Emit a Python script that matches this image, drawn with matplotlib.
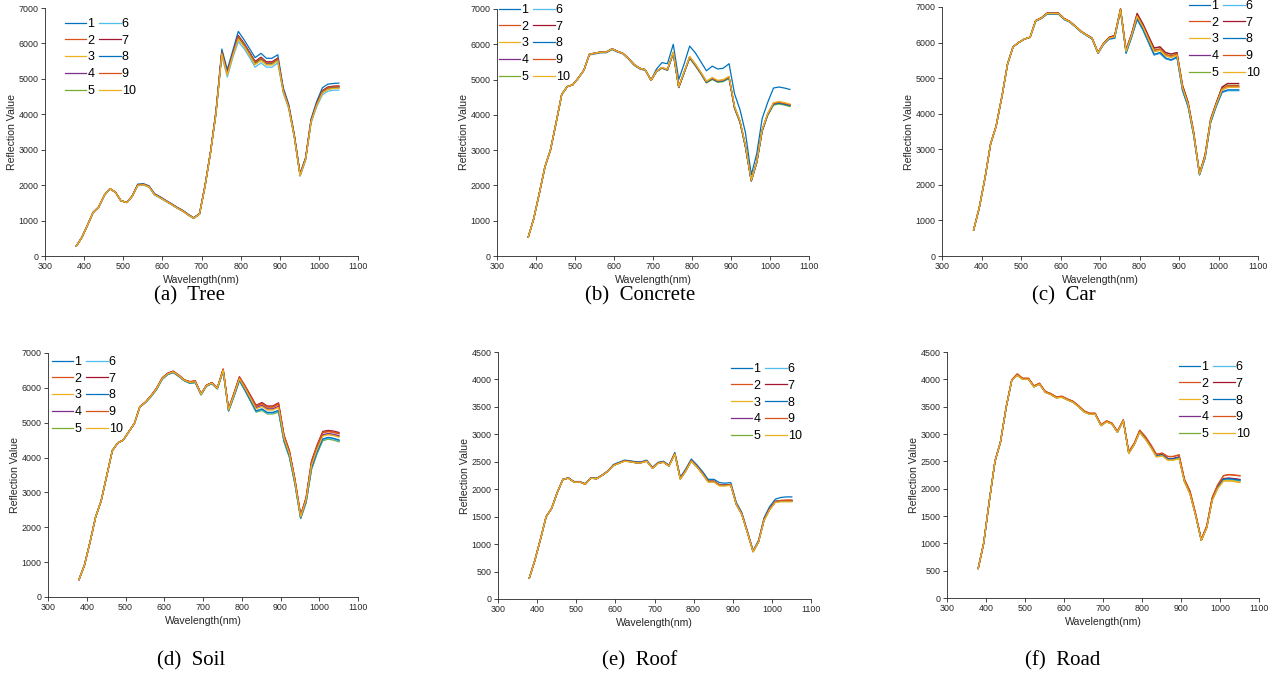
import matplotlib
matplotlib.use("Agg")
import matplotlib.pyplot as plt
import numpy as np

plt.rcParams['font.family'] = ['Liberation Sans', 'DejaVu Sans']

W, H = 1273, 679

# wavelengths of the bands (nm)
wl = [380, 394, 409, 423, 437, 452, 466, 480, 494, 509, 523, 537, 552, 566, 580, 595,
      609, 623, 637, 652, 666, 680, 695, 709, 723, 737, 752, 766, 780, 794, 809, 823,
      837, 852, 866, 880, 895, 909, 923, 937, 952, 966, 980, 994, 1009, 1023, 1037, 1051]

# lower / upper spectra, series sit between them
tree_lo = [280, 520, 880, 1230, 1380, 1720, 1900, 1800, 1560, 1510, 1680, 1980, 2000, 1940, 1720, 1630,
           1540, 1450, 1350, 1260, 1150, 1060, 1180, 1950, 2900, 4000, 5650, 5050, 5600, 6050, 5850, 5600,
           5330, 5450, 5330, 5330, 5450, 4600, 4150, 3350, 2250, 2700, 3750, 4200, 4550, 4650, 4680, 4680]
tree_hi = [280, 520, 880, 1230, 1380, 1720, 1900, 1800, 1560, 1510, 1700, 2030, 2040, 1980, 1760, 1670,
           1570, 1480, 1380, 1290, 1180, 1080, 1200, 2000, 2950, 4100, 5840, 5260, 5800, 6340, 6100, 5850,
           5600, 5720, 5580, 5580, 5680, 4750, 4280, 3450, 2330, 2780, 3870, 4350, 4750, 4850, 4870, 4880]
tree_w = [1.0, 0.55, 0.35, 0.45, 0.3, 0.0, 0.6, 0.5, 0.5, 0.25]

concrete_lo = [530, 1050, 1800, 2530, 3000, 3800, 4580, 4800, 4850, 5050, 5270, 5720, 5750, 5780, 5780, 5870,
               5800, 5740, 5600, 5420, 5320, 5280, 4980, 5230, 5330, 5270, 5750, 4780, 5200, 5620, 5400, 5170,
               4920, 5020, 4940, 4960, 5050, 4200, 3800, 3100, 2130, 2650, 3550, 4000, 4300, 4330, 4300, 4260]
concrete_hi = [530, 1050, 1800, 2530, 3000, 3800, 4580, 4800, 4850, 5050, 5270, 5700, 5730, 5760, 5760, 5850,
               5780, 5730, 5580, 5400, 5300, 5260, 4990, 5300, 5480, 5450, 6000, 5000, 5450, 5950, 5750, 5500,
               5250, 5380, 5300, 5320, 5450, 4600, 4150, 3500, 2300, 2900, 3900, 4350, 4760, 4790, 4760, 4720]
concrete_w = [1.0, 0.05, 0.08, 0.0, -0.05, 0.02, 0.04, 0.0, 0.06, 0.1]

car_lo = [730, 1340, 2200, 3150, 3650, 4500, 5400, 5880, 6000, 6100, 6150, 6600, 6680, 6800, 6800, 6800,
          6650, 6580, 6450, 6300, 6200, 6100, 5700, 5950, 6100, 6120, 6900, 5700, 6150, 6650, 6350, 6000,
          5650, 5700, 5550, 5500, 5580, 4650, 4200, 3400, 2280, 2750, 3750, 4200, 4600, 4650, 4650, 4650]
car_hi = [730, 1340, 2200, 3150, 3650, 4500, 5400, 5880, 6000, 6100, 6150, 6620, 6700, 6830, 6830, 6830,
          6680, 6600, 6470, 6320, 6220, 6130, 5720, 5980, 6150, 6200, 6950, 5800, 6250, 6820, 6520, 6180,
          5850, 5880, 5720, 5680, 5720, 4800, 4330, 3500, 2320, 2850, 3850, 4300, 4750, 4850, 4850, 4850]
car_w = [0.0, 0.5, 0.45, 0.6, 0.95, 0.05, 1.0, 0.1, 0.7, 0.5]

soil_lo = [500, 910, 1600, 2300, 2750, 3500, 4200, 4420, 4500, 4750, 4980, 5450, 5580, 5750, 5950, 6250,
           6380, 6440, 6330, 6200, 6130, 6150, 5800, 6050, 6120, 5970, 6480, 5330, 5750, 6200, 5900, 5600,
           5300, 5350, 5250, 5250, 5300, 4450, 4000, 3250, 2250, 2700, 3650, 4100, 4480, 4530, 4500, 4450]
soil_hi = [500, 910, 1600, 2300, 2750, 3500, 4200, 4420, 4500, 4750, 4980, 5460, 5600, 5780, 5990, 6290,
           6420, 6480, 6370, 6230, 6180, 6200, 5830, 6080, 6150, 6000, 6540, 5400, 5850, 6320, 6050, 5780,
           5500, 5580, 5480, 5480, 5570, 4650, 4200, 3400, 2350, 2850, 3900, 4350, 4750, 4780, 4760, 4720]
soil_w = [0.15, 0.85, 0.55, 0.65, 0.0, 0.1, 1.0, 0.2, 0.9, 0.5]

roof_lo = [380, 700, 1100, 1500, 1650, 1950, 2180, 2200, 2130, 2130, 2090, 2200, 2190, 2250, 2320, 2430,
           2470, 2510, 2500, 2480, 2480, 2510, 2380, 2470, 2490, 2420, 2640, 2180, 2330, 2510, 2400, 2270,
           2130, 2130, 2060, 2060, 2070, 1720, 1540, 1220, 860, 1040, 1430, 1620, 1760, 1770, 1770, 1770]
roof_hi = [380, 700, 1100, 1500, 1650, 1950, 2180, 2210, 2140, 2140, 2100, 2210, 2200, 2260, 2330, 2450,
           2490, 2530, 2520, 2500, 2500, 2530, 2400, 2490, 2510, 2440, 2670, 2220, 2370, 2550, 2440, 2320,
           2180, 2180, 2120, 2110, 2120, 1760, 1580, 1250, 880, 1070, 1480, 1680, 1820, 1850, 1860, 1860]
roof_w = [1.0, 0.3, 0.1, 0.2, 0.15, 0.25, 0.3, 0.25, 0.3, 0.0]

road_lo = [540, 1000, 1800, 2500, 2850, 3500, 3980, 4070, 4000, 4000, 3860, 3910, 3760, 3720, 3660, 3670,
           3620, 3580, 3500, 3400, 3360, 3360, 3150, 3220, 3180, 3030, 3240, 2640, 2800, 3030, 2900, 2750,
           2580, 2600, 2520, 2520, 2550, 2120, 1900, 1520, 1050, 1280, 1780, 2000, 2140, 2140, 2130, 2110]
road_hi = [540, 1000, 1800, 2500, 2850, 3500, 3990, 4100, 4020, 4020, 3880, 3930, 3780, 3740, 3680, 3690,
           3640, 3600, 3520, 3420, 3380, 3380, 3170, 3240, 3200, 3050, 3260, 2680, 2830, 3070, 2950, 2800,
           2630, 2650, 2590, 2590, 2620, 2170, 1960, 1560, 1070, 1320, 1840, 2070, 2240, 2260, 2250, 2240]
road_w = [0.35, 1.0, 0.0, 0.4, 0.2, 0.3, 0.45, 0.35, 0.95, 0.05]

labels = ['1', '2', '3', '4', '5', '6', '7', '8', '9', '10']
captions = ['(a)  Tree', '(b)  Concrete', '(c)  Car', '(d)  Soil', '(e)  Roof', '(f)  Road']

# matlab default colour order
colors = ['#0072BD', '#D95319', '#EDB120', '#7E2F8E', '#77AC30',
          '#4DBEEE', '#A2142F', '#0072BD', '#D95319', '#EDB120']

panels = [
    (tree_lo, tree_hi, tree_w, 7000, (45, 8, 358, 256), (65, 18), 296, 190),
    (concrete_lo, concrete_hi, concrete_w, 7000, (497, 9, 809, 256), (499, 4), 296, 640),
    (car_lo, car_hi, car_w, 7000, (942, 7, 1258, 256), (1189, 0), 296, 1064),
    (soil_lo, soil_hi, soil_w, 7000, (48, 353, 358, 597), (52, 356), 661, 191),
    (roof_lo, roof_hi, roof_w, 4500, (498, 352, 811, 599), (731, 363), 661, 640),
    (road_lo, road_hi, road_w, 4500, (947, 352, 1259, 598), (1179, 361), 661, 1063),
]

fig = plt.figure(figsize=(W / 100, H / 100), dpi=100)
axc = '#262626'

for i, (lo, hi, ws, ymax, box, legpos, capy, capx) in enumerate(panels):
    l, t, r, b = box
    ax = fig.add_axes([l / W, 1 - b / H, (r - l) / W, (b - t) / H])
    lo = np.array(lo, dtype=float)
    hi = np.array(hi, dtype=float)
    for k in range(10):
        ax.plot(wl, lo + ws[k] * (hi - lo), color=colors[k], lw=0.9, label=labels[k])

    ax.set_xlim(300, 1100)
    ax.set_ylim(0, ymax)
    ax.set_xticks(range(300, 1101, 100))
    step = 1000 if ymax == 7000 else 500
    ax.set_yticks(range(0, ymax + 1, step))
    ax.spines['top'].set_visible(False)
    ax.spines['right'].set_visible(False)
    for s in ['left', 'bottom']:
        ax.spines[s].set_color(axc)
        ax.spines[s].set_linewidth(0.6)
    ax.tick_params(direction='out', length=3, width=0.6, color=axc,
                   labelcolor=axc, labelsize=6.4, pad=1.5)
    ax.set_xlabel('Wavelength(nm)', fontsize=7.6, color=axc, labelpad=3)
    ax.set_ylabel('Reflection Value', fontsize=7.6, color=axc, labelpad=1)

    fig.legend(*ax.get_legend_handles_labels(), ncol=2, frameon=False,
               loc='upper left', bbox_to_anchor=(legpos[0] / W, 1 - legpos[1] / H),
               borderpad=0, borderaxespad=0, fontsize=9, handlelength=1.7,
               handletextpad=0.1, columnspacing=0.38, labelspacing=0.38)

    fig.text(capx / W, 1 - capy / H, captions[i], ha='center', va='center',
             fontsize=15, family='Liberation Serif')

fig.savefig('out.png', dpi=100)
